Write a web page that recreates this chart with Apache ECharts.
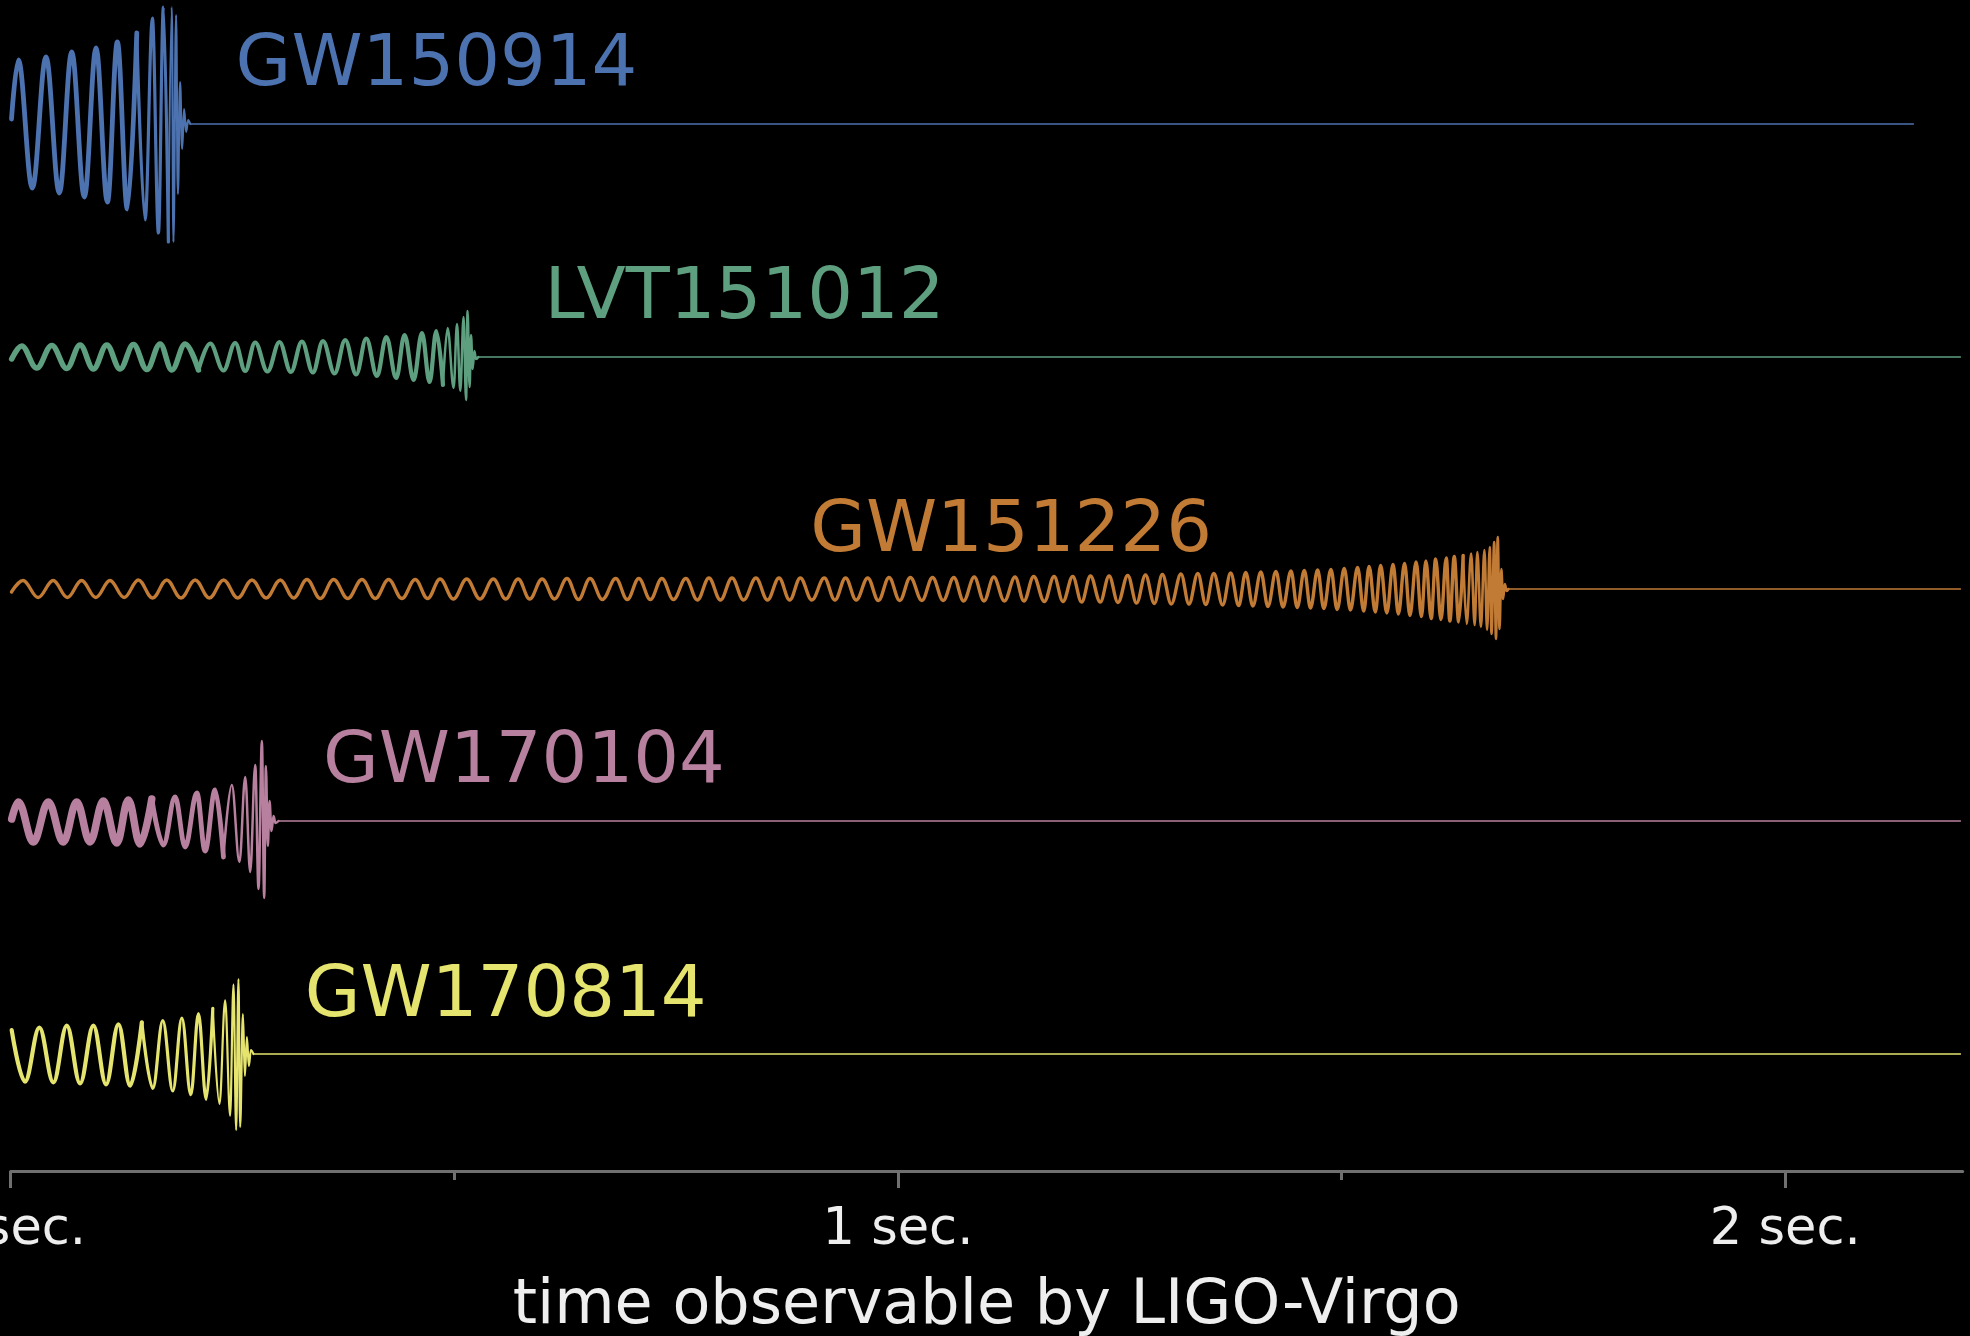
<!DOCTYPE html>
<html>
<head>
<meta charset="utf-8">
<script src="https://cdn.jsdelivr.net/npm/echarts/dist/echarts.min.js"></script>
<style>
html,body{margin:0;padding:0;background:#000;}
#chart{width:1970px;height:1336px;}
</style>
</head>
<body>
<div id="chart"></div>
<script>
// ---------------- DATA (time in ms, amplitude in arbitrary strain units) ----------------
const categories = ['GW150914', 'LVT151012', 'GW151226', 'GW170104', 'GW170814'];

// extrema of each waveform: [time ms, amplitude]
const gw150914 = [[1,5],[8.7,64],[24.5,-64],[39.9,67],[54.9,-69],[68.9,72],[83.1,-73],[96.3,76],[109.1,-78],[120.3,82],[131.6,-85],[142.2,91],[151.6,-96],[159.8,106],[166.6,-109],[172.2,117],[177.8,-118],[181.7,117],[183.5,-118],[186.5,109],[188.5,-70],[191,42],[193.3,-25],[195.5,15],[197.8,-8],[200.1,4],[202.4,0]];

const lvt151012 = [[1.2,-2],[12.5,11],[29.4,-11],[46.4,11.5],[63.3,-11.5],[78.3,12],[93.3,-12],[108.4,12],[123.4,-12],[138.4,12.5],[153.5,-12.5],[168.5,13],[181.7,-13],[196.7,13],[211.7,-13],[224.9,13.5],[239.9,-13.5],[253.1,14],[264.4,-14],[275.6,14.5],[289.5,-14.5],[303,15],[315.9,-15],[328.3,15.5],[340.7,-15.5],[352,16],[365.1,-16.5],[377.1,17],[389.5,-17.5],[400.8,18.5],[412.9,-19],[423.4,20],[434.6,-21],[444,22],[454.2,-23],[463.6,24],[472.2,-25],[479.8,26],[487.3,-28],[492.5,29],[499.3,-31],[503.1,33],[506.8,-34],[510.5,40],[513.3,-43],[515,46],[517.3,-30],[518.9,22],[520.7,-12],[522.6,6],[524.5,-2],[527.1,0]];

const gw151226 = [[1,-3],[14,8.5],[31,-8.5],[48,8.5],[64,-8.5],[80,8.5],[96,-8.5],[112,8.5],[128,-8.5],[144,9],[160,-9],[176,9],[192,-9],[208,9],[224,-9],[240,9],[256,-9],[272,9],[288,-9],[304,9],[319,-9],[334,9.5],[349,-9.5],[364,9.5],[380,-9.5],[396,9.5],[411,-9.5],[426,9.5],[441,-9.5],[456,9.5],[470,-9.5],[484,10],[499,-10],[514,10],[529,-10],[544,10],[558,-10],[572,10],[585,-10],[599,10],[613,-10],[627,10.5],[640,-10.5],[653,10.5],[667,-10.5],[682,10.5],[695,-10.5],[708,10.5],[721,-10.5],[734,10.5],[747,-10.5],[761,10.5],[774,-11],[787,11],[800,-11],[813,11],[826,-11],[840,11],[853,-11],[866,11],[878,-11],[890,11],[903,-11],[917,11],[929,-11],[941,11],[953,-11],[966,11],[978,-11.5],[990,11.5],[1002,-11.5],[1014,11.5],[1027,-11.5],[1039,11.5],[1051,-11.5],[1063,11.5],[1074,-12],[1086,12],[1097,-12],[1108,12],[1120,-12],[1132,12],[1142,-12],[1153,12.5],[1165,-12.5],[1176,12.5],[1186,-12.5],[1197,12.5],[1207,-13],[1217,13],[1228,-13],[1238,13],[1248,-13.5],[1259,13.5],[1269,-14],[1279,14],[1289,-14.5],[1298,14.5],[1308,-15],[1319,15],[1328,-15],[1338,15.5],[1347,-15.5],[1356,15.5],[1366,-16],[1375,16],[1384,-16.5],[1392,16.5],[1400,-17],[1409,17],[1417,-17.5],[1426,17.5],[1434,-18],[1443,18],[1450,-18.5],[1458,18.5],[1465,-19],[1473,19],[1480,-19.5],[1488,19.5],[1495,-20.5],[1503,20.5],[1510,-21],[1518,21.5],[1525,-22],[1531,22.5],[1538,-23],[1544,23.5],[1551,-24],[1558,24.5],[1564,-25],[1571,25.5],[1577,-26.5],[1584,27],[1590,-27.5],[1595,28],[1601,-29.5],[1606,30],[1612,-30.5],[1618,31],[1622,-32],[1627,32.5],[1632,-33],[1637,33.5],[1641,-35],[1646,35.5],[1650,-36],[1653,37],[1657,-38],[1661,39],[1664,-41],[1667,42],[1669,-45],[1672,47],[1674,-50],[1676,52],[1678,-40],[1680,20],[1682,-10],[1684,5],[1686,-2],[1688,0]];

const gw170104 = [[1.2,2],[8.7,19],[25.6,-21],[42.5,19],[59.4,-21],[74.5,19],[89.5,-21],[104.5,20],[119.7,-22],[132.7,21],[145.9,-23],[159.1,22],[172.2,-24],[185.4,24],[196.7,-26],[209.9,28],[219.2,-30],[230.5,31],[239.9,-36],[249.3,36],[257.9,-41],[264.4,44],[270,-51],[275.7,56],[279.4,-68],[283.2,80],[285.8,-77],[287.7,55],[289.9,-25],[291.8,20],[294,-10],[296.3,5],[298.5,-2],[301.9,0]];

const gw170814 = [[1.2,24],[16.2,-27.7],[32.4,26.3],[48.2,-28.3],[63.3,28.3],[78.3,-29.3],[93.3,28.3],[107.6,-30.3],[121.5,29.7],[134.7,-31.7],[147.9,31.7],[160.3,-34.3],[171.5,33.3],[182.8,-37],[193,36],[203.1,-40.7],[211.7,40.3],[220.4,-45.3],[227.9,45.7],[235.4,-50],[241.8,53.7],[247.4,-61.7],[251.2,69.3],[254.2,-76],[256.8,75],[258.7,-73],[261.8,40],[264,-22],[266.3,17],[268.5,-12],[270.8,4],[273.7,0]];

// time (ms) where each flat trace ends
const traceEnd = [2145, 2198, 2198, 2198, 2198];

const xTickValues = [0, 1000, 2000];
const xMinorTickValues = [500, 1500];
const xAxisName = 'time observable by LIGO-Virgo';

// ---------------- LAYOUT / STYLE ----------------
const waves = [gw150914, lvt151012, gw151226, gw170104, gw170814];
const colors = ['#4C72B0', '#5E9F80', '#C27B35', '#B8809F', '#E5E46E'];
const trackOffset = [930, 697, 465, 233, 0];
const labelAt = [[253, 58], [601, 58], [900.5, 57], [351.5, 58], [331, 57]];
const widthSteps = [
  [[150, 4.8], [178, 3.2], [1e9, 2.2]],
  [[220, 5.5], [490, 4.2], [1e9, 2.5]],
  [[1640, 3.4], [1e9, 2.6]],
  [[170, 7.5], [245, 4.8], [1e9, 2.5]],
  [[160, 4.2], [230, 3.2], [1e9, 2.2]]
];
const FONT = "'DejaVu Sans', sans-serif";

const series = [];
waves.forEach((w, i) => {
  const pts = w.map(([t, a]) => [t, a + trackOffset[i]]);
  let s = 0;
  for (const [until, lw] of widthSteps[i]) {
    if (s >= pts.length - 1) break;
    let e = s + 1;
    while (e < pts.length - 1 && pts[e + 1][0] <= until) e++;
    series.push({
      type: 'line', xAxisIndex: 0, yAxisIndex: 0, silent: true,
      data: pts.slice(s, e + 1), showSymbol: false, symbol: 'none',
      smooth: 0.37, smoothMonotone: 'x',
      lineStyle: { color: colors[i], width: lw, cap: 'round', join: 'round', opacity: 1 },
      z: 3
    });
    s = e;
  }
  const last = pts[pts.length - 1];
  series.push({
    type: 'line', silent: true, showSymbol: false, symbol: 'none',
    data: [[last[0], trackOffset[i]], [traceEnd[i], trackOffset[i]]],
    lineStyle: { color: colors[i], width: 1.5 }, z: 2
  });
  series.push({
    type: 'scatter', silent: true, symbolSize: 1,
    itemStyle: { color: 'rgba(0,0,0,0)', opacity: 1 },
    data: [[labelAt[i][0], trackOffset[i] + labelAt[i][1]]],
    label: {
      show: true, position: 'right', distance: 0, align: 'left', verticalAlign: 'middle', opacity: 1,
      textBorderWidth: 0,
      formatter: categories[i], color: colors[i], fontSize: 72, fontFamily: FONT
    },
    z: 4
  });
});

const chart = echarts.init(document.getElementById('chart'), null, { renderer: 'canvas' });
chart.setOption({
  backgroundColor: '#000000',
  animation: false,
  textStyle: { fontFamily: FONT },
  grid: { left: 10.6, right: 7.3, top: 0, bottom: 165, containLabel: false, outerBoundsMode: 'none' },
  xAxis: [{
    type: 'value', min: 0, max: 2200, interval: 1000, position: 'bottom',
    axisLine: { show: true, onZero: false, lineStyle: { color: '#707070', width: 3 } },
    axisTick: { show: true, length: 17, customValues: xTickValues, lineStyle: { color: '#707070', width: 3 } },
    axisLabel: {
      show: true, customValues: xTickValues, margin: 34,
      formatter: v => (v / 1000) + ' sec.', color: '#eeeeee', fontSize: 51, fontFamily: FONT
    },
    splitLine: { show: false },
    name: xAxisName, nameLocation: 'middle', nameGap: 105,
    nameTextStyle: { color: '#eeeeee', fontSize: 62, fontFamily: FONT }
  }, {
    type: 'value', min: 0, max: 2200, interval: 500, position: 'bottom',
    axisLine: { show: false, onZero: false },
    axisTick: { show: true, length: 9, customValues: xMinorTickValues, lineStyle: { color: '#707070', width: 3 } },
    axisLabel: { show: false },
    splitLine: { show: false }
  }],
  yAxis: { type: 'value', min: -117, max: 1054, show: false, splitLine: { show: false } },
  series: series
});
</script>
</body>
</html>
